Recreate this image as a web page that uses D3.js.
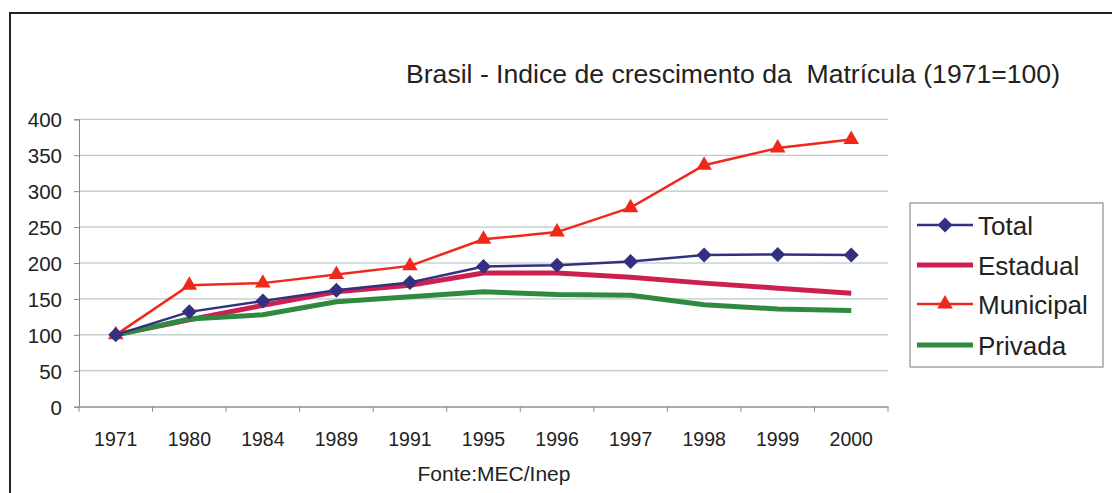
<!DOCTYPE html>
<html><head><meta charset="utf-8">
<script src="https://cdn.jsdelivr.net/npm/d3@7"></script>
<style>body{margin:0;background:#fff}svg{display:block}text{font-family:"Liberation Sans",Arial,sans-serif}</style>
</head><body><svg id="c" width="1112" height="493"></svg>
<script>
const years = ["1971","1980","1984","1989","1991","1995","1996","1997","1998","1999","2000"];
const total = [100,132,147,162,173,195,197,202,211,212,211];
const estadual = [100,121,141,160,169,186,186,180,172,165,158];
const municipal = [100,169,172,184,196,233,243,277,336,360,372];
const privada = [100,122,128,146,153,160,156,155,142,136,134];
const yTicks = [0,50,100,150,200,250,300,350,400];
const seriesNames = ["Total","Estadual","Municipal","Privada"];

const svg = d3.select("#c");
const L = 79, R = 888, T = 119.3, B = 406.7;
const x = d3.scaleBand().domain(years).range([L, R]);
const y = d3.scaleLinear().domain([0,400]).range([B, T]);
const txt = "#222";

// outer frame
svg.append("path").attr("d","M10,500 L10,13 L1120,13").attr("fill","none").attr("stroke","#222").attr("stroke-width",2);

// title
svg.append("text").attr("x",406).attr("y",83).attr("xml:space","preserve").style("white-space","pre")
  .attr("font-size",25).attr("textLength",654).attr("lengthAdjust","spacingAndGlyphs")
  .attr("fill",txt).text("Brasil - Indice de crescimento da  Matrícula (1971=100)");

// grid
svg.append("g").selectAll("line").data(yTicks).join("line")
  .attr("x1",L).attr("x2",R).attr("y1",d=>y(d)).attr("y2",d=>y(d))
  .attr("stroke","#a9bdb8").attr("stroke-width",1);

// y axis
const ya = svg.append("g").attr("transform",`translate(${L},0)`).call(d3.axisLeft(y).tickValues(yTicks).tickSize(5).tickPadding(12));
ya.select(".domain").attr("stroke","#888");
ya.selectAll(".tick line").attr("stroke","#888");
ya.selectAll("text").attr("font-size",20.5).attr("fill",txt).attr("font-family","Liberation Sans, Arial, sans-serif").attr("dy","0.36em");

// x axis
const xa = svg.append("g").attr("transform",`translate(0,${B})`).call(d3.axisBottom(x).tickSize(0).tickPadding(25));
xa.select(".domain").attr("stroke","#888");
xa.selectAll("text").attr("font-size",19.5).attr("fill",txt).attr("font-family","Liberation Sans, Arial, sans-serif");
svg.append("g").selectAll("line").data(d3.range(years.length+1)).join("line")
  .attr("x1",i=>L+i*x.step()).attr("x2",i=>L+i*x.step()).attr("y1",B).attr("y2",B+5).attr("stroke","#888");

// source
svg.append("text").attr("x",494).attr("y",481).attr("text-anchor","middle").attr("font-size",21).attr("fill",txt).text("Fonte:MEC/Inep");

const cx = d => x(d)+x.bandwidth()/2;
const line = arr => d3.line().x((d,i)=>cx(years[i])).y(d=>y(d))(arr);

const cEst = "#cc2050", cPriv = "#2f8a3f", cMun = "#f0281c", cTot = "#33317f";
svg.append("path").attr("d",line(estadual)).attr("fill","none").attr("stroke",cEst).attr("stroke-width",5).attr("stroke-linejoin","round");
svg.append("path").attr("d",line(privada)).attr("fill","none").attr("stroke",cPriv).attr("stroke-width",5).attr("stroke-linejoin","round");
svg.append("path").attr("d",line(municipal)).attr("fill","none").attr("stroke",cMun).attr("stroke-width",2.5);
svg.append("path").attr("d",line(total)).attr("fill","none").attr("stroke",cTot).attr("stroke-width",2.5);

const tri = d3.symbol().type(d3.symbolTriangle).size(105);
const dia = "M0,-7.5L7.5,0L0,7.5L-7.5,0Z";
svg.append("g").selectAll("path").data(municipal).join("path")
  .attr("d",tri).attr("transform",(d,i)=>`translate(${cx(years[i])},${y(d)})`).attr("fill",cMun);
svg.append("g").selectAll("path").data(total).join("path")
  .attr("d",dia).attr("transform",(d,i)=>`translate(${cx(years[i])},${y(d)})`).attr("fill",cTot);

// legend
svg.append("rect").attr("x",910).attr("y",203).attr("width",193).attr("height",164).attr("fill","#fff").attr("stroke","#777").attr("stroke-width",1);
const lg = [
  {n:seriesNames[0], c:cTot, w:2.5, m:dia, yy:225},
  {n:seriesNames[1], c:cEst, w:5, m:null, yy:265},
  {n:seriesNames[2], c:cMun, w:2.5, m:tri(), yy:304},
  {n:seriesNames[3], c:cPriv, w:5, m:null, yy:345}
];
lg.forEach(e=>{
  svg.append("line").attr("x1",917).attr("x2",973).attr("y1",e.yy).attr("y2",e.yy).attr("stroke",e.c).attr("stroke-width",e.w);
  if(e.m) svg.append("path").attr("d",e.m).attr("transform",`translate(945,${e.yy})`).attr("fill",e.c);
  svg.append("text").attr("x",978).attr("y",e.yy+9.5).attr("font-size",26).attr("fill",txt).text(e.n);
});
</script></body></html>
